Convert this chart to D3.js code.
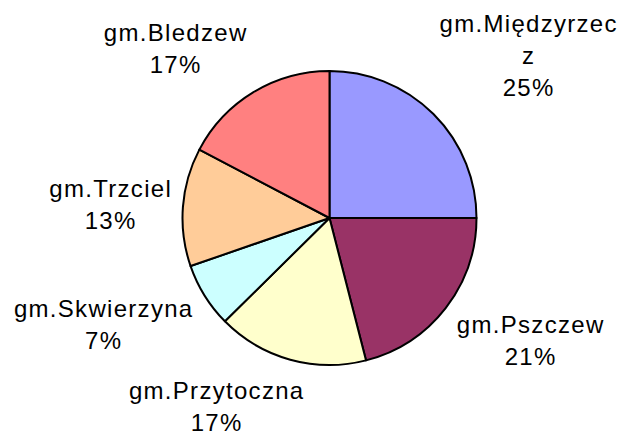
<!DOCTYPE html>
<html>
<head>
<meta charset="utf-8">
<script src="https://cdn.jsdelivr.net/npm/d3@7"></script>
<style>
  body { margin: 0; background: #fff; }
  text { font-family: "Liberation Sans", Arial, sans-serif; font-size: 24px; fill: #000; }
</style>
</head>
<body>
<svg id="chart" width="626" height="438"></svg>
<script>
// share of each gmina, clockwise from 12 o'clock
var gminy = ["gm.Międzyrzecz", "gm.Pszczew", "gm.Przytoczna", "gm.Skwierzyna", "gm.Trzciel", "gm.Bledzew"];
var udzial = [25.0, 21.0, 16.6, 7.1, 13.0, 17.3];
var kolory = ["#9999FF", "#993366", "#FFFFCC", "#CCFFFF", "#FFCC99", "#FF8080"];

// label lines (Excel wrapped the long name) and where each block sits
var labelLines = [["gm.Międzyrzec", "z"], ["gm.Pszczew"], ["gm.Przytoczna"], ["gm.Skwierzyna"], ["gm.Trzciel"], ["gm.Bledzew"]];
var labelAt = [[528, 31.5], [530, 333], [216, 399], [103, 316.5], [110, 197], [175, 41]];

var cx = 329.5, cy = 218, radius = 147;
var lineH = 32;

var svg = d3.select("#chart");
var g = svg.append("g").attr("transform", "translate(" + cx + "," + cy + ")");

var data = gminy.map(function(n, i){ return {name: n, value: udzial[i], i: i}; });

var pie = d3.pie().sort(null).value(function(d){ return d.value; });
var arc = d3.arc().innerRadius(0).outerRadius(radius);

g.selectAll("path")
  .data(pie(data))
  .enter().append("path")
    .attr("d", arc)
    .attr("fill", function(d){ return kolory[d.data.i]; })
    .attr("stroke", "#000")
    .attr("stroke-width", 2)
    .attr("stroke-linejoin", "round");

var fmt = d3.format(".0f");

data.forEach(function(d){
  var lines = labelLines[d.i].concat([fmt(d.value) + "%"]);
  var t = svg.append("text")
    .attr("text-anchor", "middle")
    .attr("letter-spacing", "1.3px");
  lines.forEach(function(s, k){
    t.append("tspan")
      .attr("x", labelAt[d.i][0] + 0.7)
      .attr("y", labelAt[d.i][1] + k * lineH)
      .text(s);
  });
});
</script>
</body>
</html>
